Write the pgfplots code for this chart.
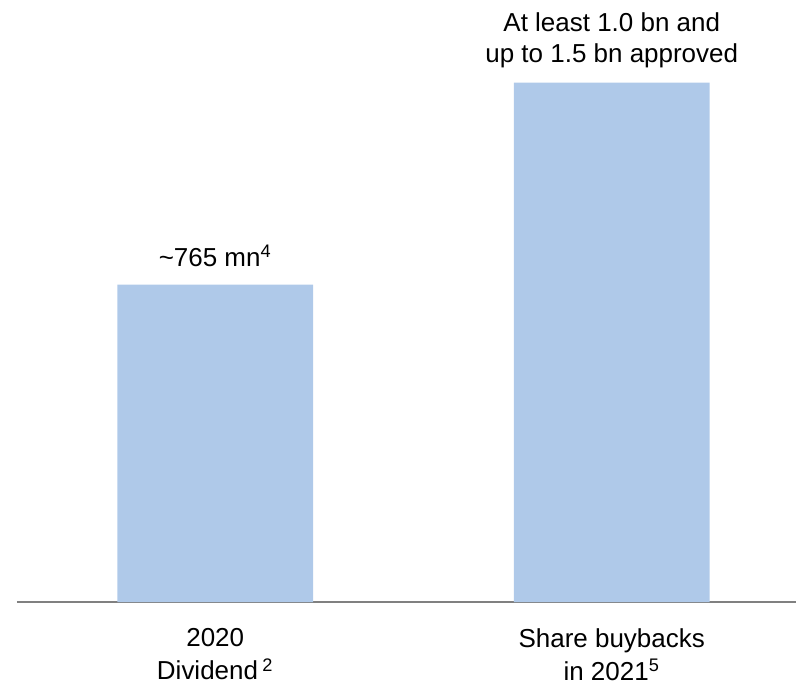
\documentclass[border=0pt]{standalone}
\usepackage{pgfplots}
\pgfplotsset{compat=1.18}
\usepackage{fontspec}
\setmainfont{Liberation Sans}
\definecolor{barblue}{HTML}{AFC9E9}
\begin{document}
\begin{tikzpicture}
\begin{axis}[
  scale only axis, width=390pt, height=291.5pt,
  xmin=-0.5, xmax=1.4647, ymin=0, ymax=1402,
  axis x line*=bottom, axis y line=none,
  x axis line style={draw=black!50, line width=1pt, -},
  xtick={0,1},
  xticklabels={{2020\\Dividend\,\textsuperscript{2}},{Share buybacks\\in 2021\textsuperscript{5}}},
  major tick length=0pt,
  xticklabel style={align=center, anchor=north, inner sep=0pt, yshift=-13pt,
    font=\fontsize{13}{16.6}\selectfont},
  ybar, bar width=98pt, clip=false,
]
\addplot[fill=barblue, draw=none] coordinates {(0,765) (1,1251)};
\node[anchor=base, inner sep=0pt, font=\fontsize{13}{15.8}\selectfont, yshift=9pt]
  at (axis cs:0,765) {\textasciitilde765 mn\textsuperscript{4}};
\node[anchor=base, inner sep=0pt, font=\fontsize{13}{15.8}\selectfont, yshift=10pt]
  at (axis cs:1,1251) {up to 1.5 bn approved};
\node[anchor=base, inner sep=0pt, font=\fontsize{13}{15.8}\selectfont, yshift=25.8pt]
  at (axis cs:1,1251) {At least 1.0 bn and};
\coordinate (bl) at (rel axis cs:0,0);
\coordinate (tr) at (rel axis cs:1,1);
\end{axis}
\path[use as bounding box] ([xshift=-8.5pt,yshift=-41.5pt]bl) rectangle ([yshift=10pt]tr);
\end{tikzpicture}
\end{document}
